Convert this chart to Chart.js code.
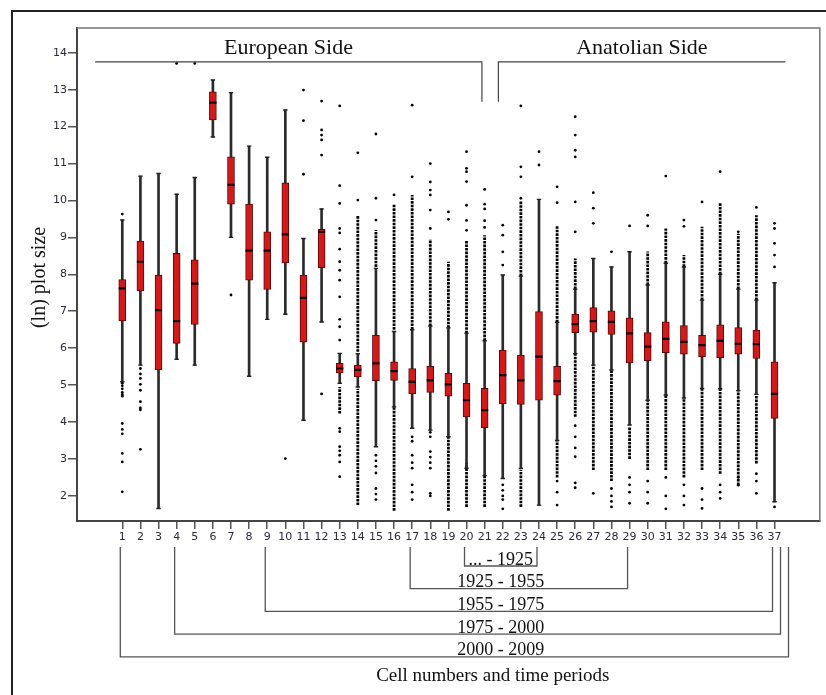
<!DOCTYPE html>
<html lang="en">
<head>
<meta charset="UTF-8">
<script src="https://cdn.jsdelivr.net/npm/chart.js"></script>
<title>plot size por celula</title>
<style>
    body { margin: 0; background: #fff; }
    .quadro { position: relative; width: 826px; height: 695px; }
    .moldura { position: absolute; left: 11px; top: 10px; right: 0; bottom: 0;
               border-left: 2px solid #222; border-top: 2px solid #222; pointer-events: none; }
</style>
</head>
<body>
<div class="quadro">
    <canvas id="myChart"></canvas>
    <div class="moldura"></div>
</div>

<script>
// valores (ln do tamanho do lote, por celula)
const cells = [1, 2, 3, 4, 5, 6, 7, 8, 9, 10, 11, 12, 13, 14, 15, 16, 17, 18, 19, 20,
               21, 22, 23, 24, 25, 26, 27, 28, 29, 30, 31, 32, 33, 34, 35, 36, 37];

const whiskerLow = [5.09, 5.54, 1.66, 5.70, 5.54, 11.72, 9.00, 5.24, 6.78, 6.92, 4.05, 6.71, 5.05,
                    4.95, 3.33, 4.41, 3.83, 3.78, 3.60, 2.75, 2.55, 2.47, 2.74, 1.75, 3.50, 5.85,
                    5.54, 5.41, 3.92, 4.59, 4.73, 4.65, 4.91, 4.90, 4.85, 4.75, 1.84];
const q1 = [6.74, 7.55, 5.42, 6.13, 6.64, 12.18, 9.90, 7.84, 7.59, 8.31, 6.16, 8.18, 5.33,
            5.22, 5.12, 5.13, 4.76, 4.80, 4.70, 4.14, 3.85, 4.50, 4.48, 4.59, 4.73, 6.42,
            6.43, 6.37, 5.60, 5.66, 5.88, 5.84, 5.77, 5.74, 5.84, 5.72, 4.10];
const median = [7.62, 8.34, 7.03, 6.73, 7.75, 12.65, 10.42, 8.64, 8.64, 9.08, 7.36, 9.15, 5.45,
                5.41, 5.59, 5.38, 5.09, 5.13, 5.02, 4.59, 4.32, 5.27, 5.13, 5.77, 5.11, 6.65,
                6.73, 6.71, 6.40, 6.04, 6.25, 6.17, 6.08, 6.20, 6.12, 6.11, 4.76];
const q3 = [7.86, 8.90, 7.98, 8.57, 8.39, 12.94, 11.18, 9.90, 9.15, 10.48, 7.98, 9.22, 5.59,
            5.54, 6.35, 5.63, 5.45, 5.51, 5.32, 5.05, 4.91, 5.95, 5.81, 6.99, 5.51, 6.92,
            7.10, 7.01, 6.82, 6.42, 6.71, 6.61, 6.35, 6.63, 6.56, 6.49, 5.63];
const whiskerHigh = [9.47, 10.66, 10.73, 10.17, 10.62, 13.26, 12.92, 11.47, 11.17, 12.45, 8.97, 9.77, 5.86,
                     5.85, 8.16, 6.45, 6.50, 6.60, 6.55, 6.40, 6.20, 7.98, 7.95, 10.03, 6.70, 7.60,
                     8.43, 8.20, 8.61, 7.71, 8.30, 8.20, 7.30, 8.00, 7.60, 7.30, 7.77];

// pontos isolados (outliers) de cada celula
const outliers = [
    [9.63, 5.05, 4.98, 4.90, 4.80, 4.74, 4.70, 3.96, 3.80, 3.68, 3.15, 2.92, 2.11],
    [5.45, 5.30, 5.18, 5.02, 4.86, 4.55, 4.38, 4.33, 3.26],
    [],
    [13.71],
    [13.71],
    [],
    [7.44],
    [],
    [],
    [3.01],
    [12.99, 12.16, 10.71],
    [12.69, 11.91, 11.77, 11.64, 11.23, 4.76],
    [12.56, 10.40, 9.92, 9.24, 9.12, 8.68, 8.34, 8.11, 7.84, 7.39, 6.78, 6.58, 6.22, 3.83, 3.74, 3.33, 3.22, 3.10, 2.92, 2.52],
    [11.29, 10.01],
    [11.80, 10.06, 9.47, 3.10, 2.95, 2.80, 2.62, 2.20, 2.05, 1.90],
    [10.15],
    [12.58, 10.64, 3.60, 3.48, 3.10, 2.90, 2.75, 2.30, 2.10, 1.90],
    [11.00, 10.50, 10.28, 10.15, 9.74, 9.24, 3.72, 3.60, 3.20, 3.05, 2.90, 2.75, 2.07, 2.00],
    [9.69, 9.49],
    [11.32, 10.87, 10.78, 10.51, 9.87, 9.46, 9.19],
    [10.30, 9.90, 9.77, 9.45, 9.27],
    [9.33, 9.06, 8.61, 8.25, 2.30, 2.15, 2.00, 1.90, 1.65],
    [12.56, 10.91, 10.64, 10.06],
    [11.32, 10.96],
    [10.37, 9.94, 2.40, 2.10, 1.75],
    [12.27, 11.77, 11.36, 11.18, 9.96, 9.15, 3.90, 3.60, 3.30, 3.06, 2.35, 2.22],
    [10.21, 9.79, 9.38, 2.07],
    [8.61, 2.20, 2.00, 1.85, 1.70],
    [9.31, 2.50, 2.30, 2.10, 1.80],
    [9.60, 9.31, 2.40, 2.10, 1.80],
    [10.66, 2.50, 2.00, 1.65],
    [9.47, 9.30, 2.30, 2.00, 1.75],
    [9.96, 2.20, 1.90, 1.66],
    [10.78, 2.30, 2.10, 1.93],
    [9.15, 2.50, 2.29],
    [9.81, 2.60, 2.40, 2.07],
    [9.38, 9.24, 8.84, 8.52, 8.20, 1.70]
];

// trechos onde os outliers ficam tao densos que viram uma faixa pontilhada [de, ate]
const denseRuns = [
    [], [], [], [], [], [], [], [], [], [], [], [],
    [[4.23, 4.95]],
    [[5.90, 9.60], [1.75, 4.90]],
    [[8.20, 9.20]],
    [[6.50, 9.90], [1.60, 4.40]],
    [[6.50, 10.15]],
    [[6.60, 8.95]],
    [[6.55, 8.34], [1.60, 3.60]],
    [[6.40, 8.90], [1.70, 2.90]],
    [[6.20, 9.06], [1.70, 2.55]],
    [],
    [[7.95, 10.00], [1.70, 2.70]],
    [],
    [[6.70, 9.30], [2.50, 3.50]],
    [[7.60, 8.43], [4.14, 5.85]],
    [[2.70, 5.54]],
    [[2.40, 5.41]],
    [[3.00, 3.85]],
    [[7.71, 8.62], [2.70, 4.59]],
    [[8.30, 9.24], [2.70, 4.73]],
    [[8.20, 8.52], [2.50, 4.65]],
    [[7.30, 9.29], [2.70, 4.91]],
    [[8.00, 9.95], [2.60, 4.90]],
    [[7.60, 9.10], [2.29, 4.85]],
    [[7.30, 9.60], [2.88, 4.75]],
    []
];

const yTicks = [2, 3, 4, 5, 6, 7, 8, 9, 10, 11, 12, 13, 14];

// lados da cidade (celulas de cada lado)
const sideLabels = ['European Side', 'Anatolian Side'];
const sideFirst = [1, 22];
const sideLast = [21, 37];

// periodos de tempo (celulas que cada periodo cobre)
const periodLabels = ['... - 1925', '1925 - 1955', '1955 - 1975', '1975 - 2000', '2000 - 2009'];
const periodStart = [20, 17, 9, 4, 1];
const periodEnd = [24, 29, 37, 37, 37];

const xTitle = 'Cell numbers and time periods';
const yTitle = '(ln) plot size';

// ---- montando os datasets a partir dos arrays ----
let whiskerData = [], boxData = [], medianData = [], capData = [], outlierData = [], denseData = [];
for (let i = 0; i < cells.length; i++) {
    whiskerData.push({ x: cells[i], y: [whiskerLow[i], whiskerHigh[i]] });
    boxData.push({ x: cells[i], y: [q1[i], q3[i]] });
    medianData.push({ x: cells[i], y: median[i] });
    capData.push({ x: cells[i], y: whiskerLow[i] });
    capData.push({ x: cells[i], y: whiskerHigh[i] });
    outliers[i].forEach(v => outlierData.push({ x: cells[i], y: v }));
    denseRuns[i].forEach(r => {
        denseData.push({ x: cells[i], y: r[0] });
        denseData.push({ x: cells[i], y: r[1] });
        denseData.push({ x: cells[i], y: null });
    });
}

const serif = '"Liberation Serif", "Times New Roman", serif';

// anotacoes: moldura do grafico, lados, periodos e titulos
const anotacoes = {
    id: 'anotacoes',
    afterDraw(chart) {
        const { ctx, chartArea: a, scales: { x, y } } = chart;
        ctx.save();

        // topo e lado direito da caixa do grafico
        ctx.strokeStyle = '#777';
        ctx.lineWidth = 1.5;
        ctx.beginPath();
        ctx.moveTo(a.left, a.top);
        ctx.lineTo(a.right, a.top);
        ctx.lineTo(a.right, a.bottom);
        ctx.stroke();

        // European / Anatolian
        ctx.strokeStyle = '#444';
        ctx.lineWidth = 1.2;
        const yLine = y.getPixelForValue(13.75);
        const yDrop = y.getPixelForValue(12.67);
        const divisa = (sideLast[0] + sideFirst[1]) / 2;
        const eL = x.getPixelForValue(sideFirst[0] - 1.5), eR = x.getPixelForValue(divisa - 0.65);
        const aL = x.getPixelForValue(divisa + 0.26), aR = x.getPixelForValue(sideLast[1] + 0.6);
        ctx.beginPath();
        ctx.moveTo(eL, yLine); ctx.lineTo(eR, yLine); ctx.lineTo(eR, yDrop);
        ctx.moveTo(aL, yDrop); ctx.lineTo(aL, yLine); ctx.lineTo(aR, yLine);
        ctx.stroke();

        ctx.fillStyle = '#111';
        ctx.font = '22px ' + serif;
        ctx.textAlign = 'center';
        ctx.textBaseline = 'alphabetic';
        const yTxt = y.getPixelForValue(13.96);
        ctx.fillText(sideLabels[0], (eL + eR) / 2, yTxt);
        ctx.fillText(sideLabels[1], (aL + aR) / 2, yTxt);

        // colchetes dos periodos
        ctx.strokeStyle = '#555';
        ctx.lineWidth = 1.3;
        ctx.font = '18px ' + serif;
        const topo = a.bottom + 26;
        let centro = null;
        for (let i = 0; i < periodLabels.length; i++) {
            const fundo = a.bottom + 45 + i * 22.7;
            let ninho = 0;
            for (let k = 0; k < i; k++) if (periodEnd[k] === periodEnd[i]) ninho++;
            const esq = x.getPixelForValue(periodStart[i]) - 2;
            const dir = x.getPixelForValue(periodEnd[i]) - 2 + ninho * 8;
            ctx.beginPath();
            ctx.moveTo(esq, topo); ctx.lineTo(esq, fundo); ctx.lineTo(dir, fundo); ctx.lineTo(dir, topo);
            ctx.stroke();
            if (centro === null) centro = (esq + dir) / 2;
            ctx.fillText(periodLabels[i], centro, fundo - 1.5);
        }

        // titulos dos eixos
        ctx.font = '19px ' + serif;
        ctx.fillText(xTitle, centro - 8, a.bottom + 160);

        ctx.font = '20px ' + serif;
        ctx.translate(40, (a.top + a.bottom) / 2 + 3);
        ctx.rotate(-Math.PI / 2);
        ctx.textBaseline = 'middle';
        ctx.fillText(yTitle, 0, 0);

        ctx.restore();
    }
};

const config = {
    type: 'bar',
    data: {
        datasets: [
            {
                type: 'scatter', label: 'mediana', data: medianData, order: 0,
                pointStyle: 'line', pointRadius: 3.6, borderColor: '#1a0000', borderWidth: 2.2
            },
            {
                type: 'scatter', label: 'extremos', data: capData, order: 1,
                pointStyle: 'line', pointRadius: 2.2, borderColor: '#222', borderWidth: 1.4
            },
            {
                label: 'caixa', data: boxData, order: 2, grouped: false,
                barThickness: 7, backgroundColor: '#d11a1a', borderColor: '#5e0606',
                borderWidth: 1, borderSkipped: false
            },
            {
                label: 'bigode', data: whiskerData, order: 3, grouped: false,
                barThickness: 2, backgroundColor: '#2b2b2b', borderWidth: 0
            },
            {
                type: 'scatter', label: 'outliers', data: outlierData, order: 4,
                pointRadius: 1.4, pointBackgroundColor: '#000', pointBorderWidth: 0
            },
            {
                type: 'line', label: 'densos', data: denseData, order: 5,
                borderColor: '#000', borderWidth: 2.8, borderDash: [2.6, 1],
                pointRadius: 0, spanGaps: false, fill: false
            }
        ]
    },
    options: {
        responsive: true,
        maintainAspectRatio: false,
        animation: false,
        layout: { padding: { left: 0, top: 28, right: 3, bottom: 0 } },
        plugins: { legend: { display: false }, tooltip: { enabled: false } },
        scales: {
            x: {
                type: 'linear',
                offset: false,
                min: -1.5,
                max: 39.5,
                afterBuildTicks: scale => { scale.ticks = cells.map(v => ({ value: v })); },
                afterFit: scale => { scale.height = 174; },
                grid: { offset: false, drawOnChartArea: false, drawTicks: true, tickLength: 8, color: '#555', lineWidth: 1.5 },
                border: { display: true, color: '#444', width: 2 },
                ticks: {
                    autoSkip: false, maxRotation: 0, padding: 2, color: '#2a2a3a',
                    font: { family: '"DejaVu Sans"', size: 11 },
                    callback: v => String(v)
                }
            },
            y: {
                min: 1.32,
                max: 14.67,
                afterBuildTicks: scale => { scale.ticks = yTicks.map(v => ({ value: v })); },
                afterFit: scale => { scale.width = 77; },
                grid: { drawOnChartArea: false, drawTicks: true, tickLength: 9, color: '#555', lineWidth: 1.5 },
                border: { display: true, color: '#444', width: 2 },
                ticks: {
                    padding: 1, color: '#2a2a3a',
                    font: { family: '"DejaVu Sans"', size: 11 },
                    callback: v => String(v)
                }
            }
        }
    },
    plugins: [anotacoes]
};

let myChart = new Chart(document.getElementById('myChart'), config);
</script>
</body>
</html>
